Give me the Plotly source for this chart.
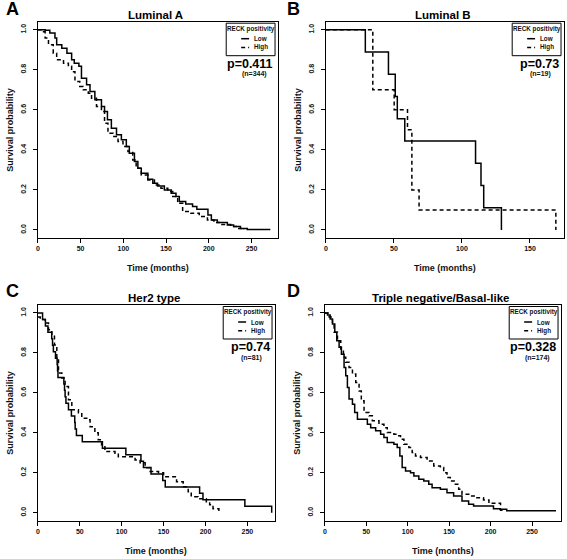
import plotly.graph_objects as go

W, H = 567, 559

# ---------------- data ----------------
# Panel A: Luminal A
a_low_t = [0, 8.5, 14, 20, 22, 28, 34, 39.5, 42.6, 48, 51, 57, 61, 66.7, 74.4, 78, 81.4, 86, 92, 97.7,
           103.5, 107, 113, 117, 121, 128.7, 134.5, 140, 148, 156, 161.6, 165.5, 173, 181, 186, 199,
           203, 210, 221.7, 229, 237, 245, 272]
a_low_s = [1.0, 0.997, 0.983, 0.958, 0.925, 0.908, 0.883, 0.85, 0.833, 0.817, 0.758, 0.725, 0.692, 0.65,
           0.617, 0.592, 0.55, 0.508, 0.475, 0.45, 0.417, 0.383, 0.342, 0.308, 0.283, 0.253, 0.233, 0.22,
           0.2, 0.183, 0.167, 0.142, 0.13, 0.117, 0.104, 0.075, 0.05, 0.037, 0.025, 0.017, 0.008, 0.003,
           0.003]
a_high_t = [0, 6.6, 8.5, 12.4, 18, 22, 30, 35.7, 39.5, 43.4, 49, 53, 59, 62.8, 68.6, 74.4, 78, 82, 88,
            93.8, 99.6, 105.4, 111, 115, 121, 128.7, 136.4, 144, 152, 157.8, 163.6, 169.4, 179, 188.8,
            198.4, 206, 214, 225.6, 233, 241]
a_high_s = [1.0, 0.99, 0.958, 0.925, 0.883, 0.85, 0.833, 0.817, 0.79, 0.742, 0.717, 0.7, 0.683, 0.658,
            0.617, 0.592, 0.533, 0.483, 0.467, 0.442, 0.417, 0.392, 0.35, 0.308, 0.275, 0.25, 0.225,
            0.208, 0.192, 0.167, 0.133, 0.092, 0.083, 0.067, 0.05, 0.037, 0.028, 0.017, 0.007, 0.0]

# Panel B: Luminal B
b_low_t = [0, 29, 46, 51, 52.5, 58, 110, 114, 116, 129]
b_low_s = [1.0, 0.889, 0.778, 0.667, 0.556, 0.444, 0.333, 0.222, 0.111, 0.0]
b_high_t = [0, 34.5, 50.2, 60, 63.2, 68.5, 169]
b_high_s = [1.0, 0.7, 0.6, 0.5, 0.2, 0.1, 0.0]

# Panel C: Her2 type
c_low_t = [0, 5.6, 9, 12, 16.5, 17.5, 18.5, 21, 23, 23.5, 24, 31, 31.8, 32.5, 33.5, 36.5, 40, 44, 44.5,
           46, 53, 77, 105, 123, 126, 135, 149, 152, 193, 197, 247, 279]
c_low_s = [1.0, 0.968, 0.935, 0.903, 0.871, 0.839, 0.806, 0.774, 0.742, 0.71, 0.677, 0.645, 0.613, 0.581,
           0.548, 0.516, 0.484, 0.452, 0.419, 0.387, 0.355, 0.323, 0.29, 0.258, 0.226, 0.194, 0.161,
           0.129, 0.097, 0.065, 0.032, 0.0]
c_high_t = [0, 2.8, 8.7, 12.7, 16.7, 19.8, 22.6, 24.6, 28.6, 32.5, 36.5, 40.5, 48.4, 52.4, 58.3, 62.3,
            68, 72, 76, 80, 92, 96, 116, 122, 128, 134, 144, 150, 165.5, 173.4, 179.4, 183, 191, 201,
            205, 209, 216]
c_high_s = [0.98, 0.967, 0.95, 0.916, 0.89, 0.84, 0.775, 0.7, 0.674, 0.632, 0.565, 0.515, 0.5, 0.473,
            0.465, 0.43, 0.4, 0.365, 0.34, 0.306, 0.298, 0.28, 0.264, 0.25, 0.225, 0.206, 0.2, 0.18,
            0.155, 0.13, 0.105, 0.08, 0.07, 0.055, 0.04, 0.02, 0.0]

# Panel D: Triple negative/Basal-like
d_low_t = [0, 3.2, 6.4, 9.2, 12, 14.4, 17.2, 20, 23.2, 25.2, 27.2, 29.2, 33.3, 36, 39.3, 51.3, 55.3,
           61.3, 67.3, 71.3, 75.3, 83.3, 87.3, 90.5, 93.3, 97.4, 103.4, 107.4, 113.4, 119.4, 125.4,
           129.4, 139.4, 147.4, 155.4, 165.5, 173.5, 179.5, 203.5, 211.5, 219.5, 279]
d_low_s = [1.0, 0.99, 0.97, 0.945, 0.903, 0.861, 0.828, 0.794, 0.727, 0.686, 0.627, 0.569, 0.543, 0.502,
           0.468, 0.443, 0.426, 0.41, 0.393, 0.376, 0.351, 0.343, 0.326, 0.284, 0.226, 0.209, 0.2,
           0.184, 0.167, 0.159, 0.142, 0.125, 0.117, 0.1, 0.084, 0.059, 0.042, 0.033, 0.02, 0.017,
           0.01, 0.01]
d_high_t = [0, 5.2, 9.2, 11.2, 15.2, 19.2, 22.4, 25.2, 29.2, 33.3, 37.3, 41.3, 44, 47.3, 53.3, 57.3,
            65.3, 71.3, 75.3, 83.3, 87.3, 91.3, 95.4, 101.4, 105.4, 109.4, 115.4, 123.4, 131.4, 139.4,
            143.4, 147.4, 151.4, 157.5, 161.5, 165.5, 175.5, 183.5, 191.5, 198, 212, 217]
d_high_s = [1.0, 0.98, 0.937, 0.903, 0.861, 0.82, 0.778, 0.753, 0.727, 0.694, 0.652, 0.61, 0.56, 0.502,
            0.485, 0.46, 0.443, 0.426, 0.401, 0.393, 0.385, 0.368, 0.343, 0.326, 0.301, 0.284, 0.276,
            0.259, 0.234, 0.226, 0.2, 0.176, 0.159, 0.142, 0.117, 0.092, 0.084, 0.075, 0.064, 0.047,
            0.012, 0.012]

x_ticks = [0, 50, 100, 150, 200, 250]
y_ticks = [0.0, 0.2, 0.4, 0.6, 0.8, 1.0]
y_labels = ["0.0", "0.2", "0.4", "0.6", "0.8", "1.0"]

titles = ["Luminal A", "Luminal B", "Her2 type", "Triple negative/Basal-like"]
letters = ["A", "B", "C", "D"]
p_texts = ["p=0.411", "p=0.73", "p=0.74", "p=0.328"]
n_texts = ["(n=344)", "(n=19)", "(n=81)", "(n=174)"]
x_max = [281, 175, 283, 285]

# panel boxes in pixels: left, right, top, bottom
boxes = [(36, 277, 21.7, 238), (325, 564, 21.7, 238), (36, 274, 305, 520.7), (324, 561, 305, 520.7)]

series = [(a_low_t, a_low_s, a_high_t, a_high_s), (b_low_t, b_low_s, b_high_t, b_high_s),
          (c_low_t, c_low_s, c_high_t, c_high_s), (d_low_t, d_low_s, d_high_t, d_high_s)]

FONT = "Liberation Sans, Arial, sans-serif"
DASH = "4px,3px"
TXT = "#111"


def px(x):
    return x / W


def py(y):
    return 1 - y / H


fig = go.Figure()
annotations = []
shapes = []
layout = {}

for i in range(4):
    L, R, T, B = boxes[i]
    ax = "" if i == 0 else str(i + 1)
    xa, ya = "x" + ax, "y" + ax
    lt, ls, ht, hs = series[i]
    fig.add_trace(go.Scatter(x=lt, y=ls, mode="lines", line=dict(color="black", width=1.5, shape="hv"),
                             xaxis=xa, yaxis=ya, showlegend=False, hoverinfo="skip"))
    fig.add_trace(go.Scatter(x=ht, y=hs, mode="lines",
                             line=dict(color="black", width=1.5, shape="hv", dash=DASH),
                             xaxis=xa, yaxis=ya, showlegend=False, hoverinfo="skip"))
    common = dict(showgrid=False, zeroline=False, showline=True, mirror=True, linecolor="black",
                  linewidth=1, ticks="outside", ticklen=4, tickwidth=1, tickcolor="black",
                  tickfont=dict(family=FONT, size=7, color=TXT))
    layout["xaxis" + ax] = dict(common, domain=[px(L), px(R)], range=[0, x_max[i]], tickvals=x_ticks,
                                ticktext=[f"<b>{v}</b>" for v in x_ticks], anchor=ya)
    layout["yaxis" + ax] = dict(common, domain=[py(B), py(T)], range=[-0.04, 1.04], tickvals=y_ticks,
                                ticktext=[f"<b>{v}</b>" for v in y_labels], tickangle=-90, anchor=xa,
                                ticklabelstandoff=4)
    cx = (L + R) / 2
    # panel letter
    ly = 9 if i < 2 else 291
    lx = 2 if L < 100 else 284
    annotations.append(dict(text=f"<b>{letters[i]}</b>", x=px(lx), y=py(ly), xref="paper", yref="paper",
                            xanchor="left", yanchor="middle", showarrow=False,
                            font=dict(family=FONT, size=18, color="black")))
    # title
    annotations.append(dict(text=f"<b>{titles[i]}</b>", x=px(cx - 2), y=py(T - 7), xref="paper",
                            yref="paper", xanchor="center", yanchor="middle", showarrow=False,
                            font=dict(family=FONT, size=11.5, color="black")))
    # axis titles
    annotations.append(dict(text="<b>Time (months)</b>", x=px(cx), y=py(B + 30), xref="paper",
                            yref="paper", xanchor="center", yanchor="middle", showarrow=False,
                            font=dict(family=FONT, size=9, color=TXT)))
    annotations.append(dict(text="<b>Survival probability</b>", x=px(L - 28), y=py((T + B) / 2),
                            xref="paper", yref="paper", xanchor="center", yanchor="middle",
                            showarrow=False, textangle=-90, font=dict(family=FONT, size=9, color=TXT)))
    # legend box
    bR = R - 3
    bL = bR - 49
    bT = T + 1.5
    shapes.append(dict(type="rect", xref="paper", yref="paper", x0=px(bL), x1=px(bR), y0=py(bT + 32.5),
                       y1=py(bT), line=dict(color="black", width=1), fillcolor="white", layer="above"))
    annotations.append(dict(text="<b>RECK positivity</b>", x=px(bL + 24.5), y=py(bT + 5.5), xref="paper",
                            yref="paper", xanchor="center", yanchor="middle", showarrow=False,
                            font=dict(family=FONT, size=6.3, color=TXT)))
    shapes.append(dict(type="line", xref="paper", yref="paper", x0=px(bL + 15), x1=px(bL + 23),
                       y0=py(bT + 15.5), y1=py(bT + 15.5), line=dict(color="black", width=1.5),
                       layer="above"))
    shapes.append(dict(type="line", xref="paper", yref="paper", x0=px(bL + 15), x1=px(bL + 23),
                       y0=py(bT + 24.3), y1=py(bT + 24.3), line=dict(color="black", width=1.5, dash=DASH),
                       layer="above"))
    annotations.append(dict(text="<b>Low</b>", x=px(bL + 26), y=py(bT + 15.5), xref="paper", yref="paper",
                            xanchor="left", yanchor="middle", showarrow=False,
                            font=dict(family=FONT, size=6.3, color=TXT)))
    annotations.append(dict(text="<b>High</b>", x=px(bL + 26), y=py(bT + 24.3), xref="paper",
                            yref="paper", xanchor="left", yanchor="middle", showarrow=False,
                            font=dict(family=FONT, size=6.3, color=TXT)))
    # p value and n
    annotations.append(dict(text=f"<b>{p_texts[i]}</b>", x=px(bR), y=py(bT + 40.5), xref="paper",
                            yref="paper", xanchor="right", yanchor="middle", showarrow=False,
                            font=dict(family=FONT, size=12.5, color="black")))
    annotations.append(dict(text=f"<b>{n_texts[i]}</b>", x=px(bR - 21), y=py(bT + 51), xref="paper",
                            yref="paper", xanchor="center", yanchor="middle", showarrow=False,
                            font=dict(family=FONT, size=7, color=TXT)))

fig.update_layout(width=W, height=H, margin=dict(l=0, r=0, t=0, b=0), paper_bgcolor="white",
                  plot_bgcolor="white", annotations=annotations, shapes=shapes, showlegend=False, **layout)

fig.write_html("out.html", config={"displayModeBar": False},
               post_script="document.body.style.margin='0';document.body.style.overflow='hidden';")
